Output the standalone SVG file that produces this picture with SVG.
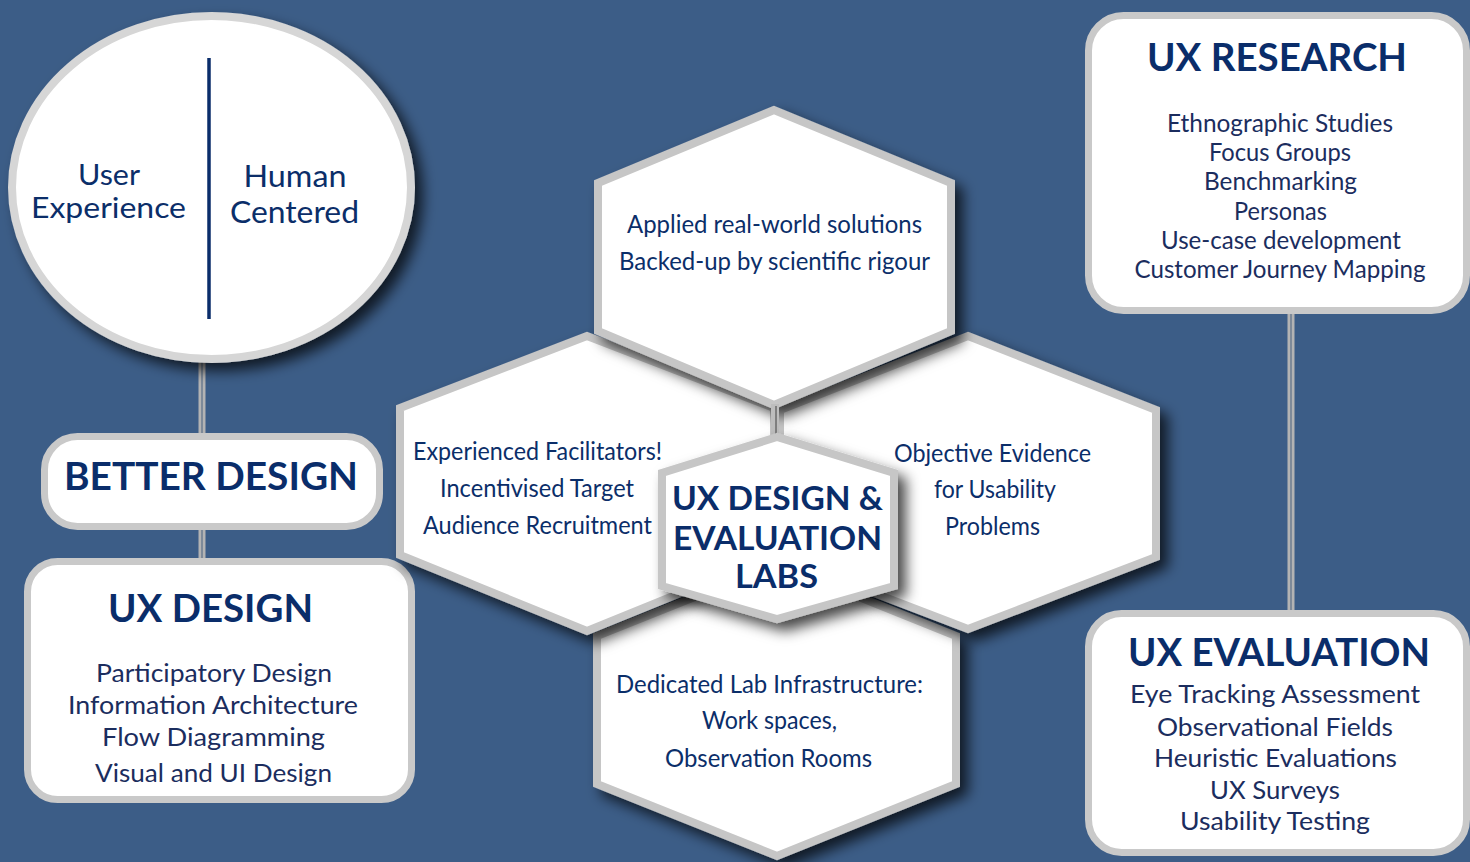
<svg xmlns="http://www.w3.org/2000/svg" width="1470" height="862" viewBox="0 0 1470 862">
<defs>
<filter id="sh" x="-20%" y="-20%" width="150%" height="150%">
<feDropShadow dx="8" dy="8" stdDeviation="7" flood-color="#000" flood-opacity="0.72"/>
</filter>
<style>
.bg{fill:#3c5d87}
.box{fill:#fff;stroke:#c9c9c9;stroke-width:7}
.hex{fill:#fff;stroke:#c6c6c6;stroke-width:8;stroke-linejoin:miter}
.con{stroke:#b3b3b3;stroke-width:7;fill:none}
.conc{stroke:#6d7c90;stroke-width:1.5;fill:none}
text{font-family:Lato,"Liberation Sans",sans-serif;text-anchor:middle;fill:#0b2e69}
.t{font-weight:bold;fill:#0a2d6a}
.it{fill:#1b2d5e;font-size:25px}
.hx{font-size:25px}
</style>
</defs>
<rect class="bg" x="0" y="0" width="1470" height="862"/>

<g id="connectors">
<line class="con" x1="202" y1="360" x2="202" y2="438"/>
<line class="conc" x1="202" y1="360" x2="202" y2="438"/>
<line class="con" x1="202" y1="526" x2="202" y2="562"/>
<line class="conc" x1="202" y1="526" x2="202" y2="562"/>
<line class="con" x1="1291" y1="310" x2="1291" y2="616"/>
<line class="conc" x1="1291" y1="310" x2="1291" y2="616"/>
</g>

<g id="ux-experience-circle">
<ellipse cx="211.5" cy="187.5" rx="199.5" ry="171.5" fill="#fff" stroke="#d6d6d6" stroke-width="8" filter="url(#sh)"/>
<line x1="209" y1="58" x2="209" y2="319" stroke="#0a2d6a" stroke-width="3.5"/>
<text x="109" y="185" font-size="28" textLength="62" lengthAdjust="spacingAndGlyphs">User</text>
<text x="108.5" y="218" font-size="28" textLength="155" lengthAdjust="spacingAndGlyphs">Experience</text>
<text x="295" y="187" font-size="30" textLength="103" lengthAdjust="spacingAndGlyphs">Human</text>
<text x="294.5" y="223" font-size="30" textLength="129" lengthAdjust="spacingAndGlyphs">Centered</text>
</g>

<g id="better-design">
<rect class="box" x="44.5" y="436.5" width="335" height="90" rx="33"/>
<text class="t" x="211" y="490" font-size="38" textLength="294" lengthAdjust="spacingAndGlyphs">BETTER DESIGN</text>
</g>

<g id="ux-design">
<rect class="box" x="27.5" y="561.5" width="384" height="238" rx="30"/>
<text class="t" x="210.5" y="622" font-size="38" textLength="205" lengthAdjust="spacingAndGlyphs">UX DESIGN</text>
<text class="it" x="214" y="682" textLength="236" lengthAdjust="spacingAndGlyphs">Participatory Design</text>
<text class="it" x="213" y="714" textLength="290" lengthAdjust="spacingAndGlyphs">Information Architecture</text>
<text class="it" x="213.5" y="746" textLength="223" lengthAdjust="spacingAndGlyphs">Flow Diagramming</text>
<text class="it" x="213.5" y="782" textLength="237" lengthAdjust="spacingAndGlyphs">Visual and UI Design</text>
</g>

<g id="ux-research">
<rect class="box" x="1088.5" y="15.5" width="378" height="295" rx="35"/>
<text class="t" x="1277" y="71" font-size="38" textLength="260" lengthAdjust="spacingAndGlyphs">UX RESEARCH</text>
<text class="it" x="1280" y="132" textLength="226" lengthAdjust="spacingAndGlyphs">Ethnographic Studies</text>
<text class="it" x="1280" y="161" textLength="142" lengthAdjust="spacingAndGlyphs">Focus Groups</text>
<text class="it" x="1280.5" y="190" textLength="153" lengthAdjust="spacingAndGlyphs">Benchmarking</text>
<text class="it" x="1280.5" y="220" textLength="93" lengthAdjust="spacingAndGlyphs">Personas</text>
<text class="it" x="1281" y="249" textLength="240" lengthAdjust="spacingAndGlyphs">Use-case development</text>
<text class="it" x="1280" y="278" textLength="291" lengthAdjust="spacingAndGlyphs">Customer Journey Mapping</text>
</g>

<g id="ux-evaluation">
<rect class="box" x="1088.5" y="613.5" width="378" height="239" rx="33"/>
<text class="t" x="1279" y="666" font-size="38" textLength="302" lengthAdjust="spacingAndGlyphs">UX EVALUATION</text>
<text class="it" x="1275" y="703" textLength="290" lengthAdjust="spacingAndGlyphs">Eye Tracking Assessment</text>
<text class="it" x="1275" y="736" textLength="236" lengthAdjust="spacingAndGlyphs">Observational Fields</text>
<text class="it" x="1275.5" y="767" textLength="243" lengthAdjust="spacingAndGlyphs">Heuristic Evaluations</text>
<text class="it" x="1275" y="799" textLength="130" lengthAdjust="spacingAndGlyphs">UX Surveys</text>
<text class="it" x="1275" y="830" textLength="190" lengthAdjust="spacingAndGlyphs">Usability Testing</text>
</g>

<g id="hex-bottom">
<polygon class="hex" points="777,564 597,636 597,784 777,856 956,784 956,636" filter="url(#sh)"/>
<text class="hx" x="769.5" y="693" textLength="307" lengthAdjust="spacingAndGlyphs">Dedicated Lab Infrastructure:</text>
<text class="hx" x="769.5" y="729" textLength="135" lengthAdjust="spacingAndGlyphs">Work spaces,</text>
<text class="hx" x="768.5" y="767" textLength="207" lengthAdjust="spacingAndGlyphs">Observation Rooms</text>
</g>

<g id="hex-left">
<polygon class="hex" points="587,336 400,408 400,555 587,631 774,555 774,408" filter="url(#sh)"/>
<text class="hx" x="537.5" y="460" font-size="24" textLength="249" lengthAdjust="spacingAndGlyphs">Experienced Facilitators!</text>
<text class="hx" x="537" y="497" font-size="24" textLength="194" lengthAdjust="spacingAndGlyphs">Incentivised Target</text>
<text class="hx" x="537.5" y="534" font-size="24" textLength="229" lengthAdjust="spacingAndGlyphs">Audience Recruitment</text>
</g>

<g id="hex-right">
<polygon class="hex" points="968,336 1156,410 1156,557 968,629 780,557 780,410" filter="url(#sh)"/>
<text class="hx" x="992.5" y="462" font-size="24" textLength="197" lengthAdjust="spacingAndGlyphs">Objective Evidence</text>
<text class="hx" x="995" y="498" font-size="24" textLength="122" lengthAdjust="spacingAndGlyphs">for Usability</text>
<text class="hx" x="992.5" y="535" font-size="24" textLength="95" lengthAdjust="spacingAndGlyphs">Problems</text>
</g>

<g id="hex-top">
<polygon class="hex" points="774,110 598,183 598,331 774,405 951,331 951,183" filter="url(#sh)"/>
<text class="hx" x="774.5" y="233" textLength="295" lengthAdjust="spacingAndGlyphs">Applied real-world solutions</text>
<text class="hx" x="774.5" y="270" textLength="311" lengthAdjust="spacingAndGlyphs">Backed-up by scientific rigour</text>
</g>

<g id="hex-seam">
<rect x="771" y="404" width="8" height="32" fill="#bdbdbd"/>
<line x1="776" y1="406" x2="776" y2="434" stroke="#555" stroke-width="1.2"/>
</g>

<g id="hex-center">
<polygon class="hex" points="777,437 662,473 662,586 777,619 894,586 894,473" filter="url(#sh)"/>
<text class="t" x="777.5" y="510" font-size="32" textLength="211" lengthAdjust="spacingAndGlyphs">UX DESIGN &amp;</text>
<text class="t" x="777.5" y="550" font-size="32" textLength="209" lengthAdjust="spacingAndGlyphs">EVALUATION</text>
<text class="t" x="776.5" y="588" font-size="32" textLength="83" lengthAdjust="spacingAndGlyphs">LABS</text>
</g>
</svg>
